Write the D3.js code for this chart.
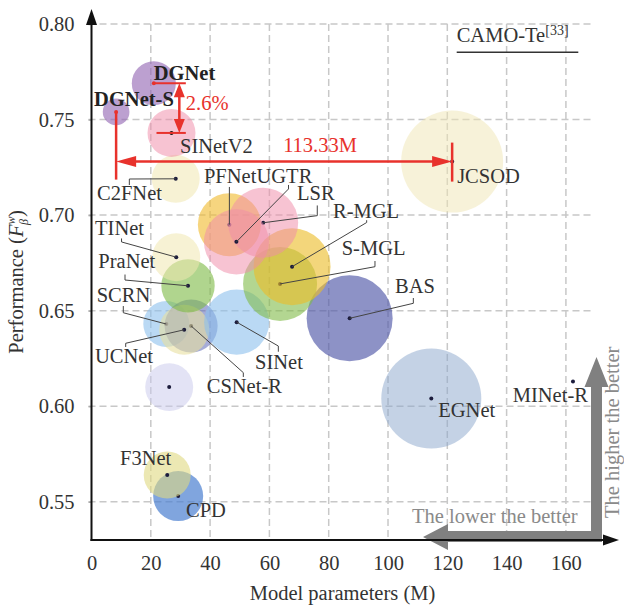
<!DOCTYPE html>
<html>
<head>
<meta charset="utf-8">
<script src="https://cdn.jsdelivr.net/npm/d3@7"></script>
<style>
  body { margin: 0; background: #fff; }
  svg { display: block; }
  text { font-family: "Liberation Serif", "Times New Roman", serif; }
</style>
</head>
<body>
<svg id="chart" width="624" height="608"></svg>
<script>
// Models in drawing order (later bubbles sit on top of earlier ones)
const models = ["CPD", "F3Net", "", "SCRN", "CSNet-R", "UCNet", "SINet", "PraNet", "TINet",
  "C2FNet", "BAS", "EGNet", "S-MGL", "R-MGL", "PFNet", "LSR", "UGTR", "SINetV2",
  "DGNet", "DGNet-S", "JCSOD", "MINet-R"];
// Model parameters (M)
const params = [29.23, 25.54, 26.2, 25.23, 33.6, 31.26, 48.95, 32.55, 28.58,
  28.41, 87.06, 114.6, 63.6, 67.64, 46.5, 57.9, 48.87, 26.98,
  21.02, 8.30, 121.63, 162.38];
// Performance F_beta^w on CAMO-Te
const perf = [0.553, 0.564, 0.610, 0.643, 0.642, 0.640, 0.644, 0.663, 0.678,
  0.719, 0.646, 0.604, 0.664, 0.673, 0.695, 0.696, 0.686, 0.743,
  0.769, 0.754, 0.728, 0.613];
// Bubble magnitude (area-encoded)
const bubble = [25, 22.1, 23, 21.2, 28.1, 25, 42.3, 28.5, 23,
  23, 74, 100, 54.8, 59.3, 39.7, 49, 42.3, 23,
  19.4, 7.1, 104, 0];

const xTicks = [0, 20, 40, 60, 80, 100, 120, 140, 160];
const yTicks = [0.55, 0.60, 0.65, 0.70, 0.75, 0.80];

// Bubble fills
const palette = {
  "CPD": ["#4a7fd0", 0.7], "F3Net": ["#e0d880", 0.6], "": ["#c8c8ec", 0.5],
  "SCRN": ["#8cc0ec", 0.6], "CSNet-R": ["#5c68b8", 0.55], "UCNet": ["#e8e0a0", 0.6],
  "SINet": ["#8cc0ec", 0.6], "PraNet": ["#80bb48", 0.62], "TINet": ["#f0e8b0", 0.55],
  "C2FNet": ["#f0e8b0", 0.55], "BAS": ["#5058a8", 0.65], "EGNet": ["#8aa6cc", 0.5],
  "S-MGL": ["#80bb48", 0.6], "R-MGL": ["#ebbd2a", 0.62], "PFNet": ["#f0bc30", 0.62],
  "LSR": ["#f08ca8", 0.52], "UGTR": ["#f08ca8", 0.52], "SINetV2": ["#f08ca8", 0.52],
  "DGNet": ["#9060b0", 0.6], "DGNet-S": ["#9060b0", 0.6], "JCSOD": ["#f0e6b4", 0.5],
  "MINet-R": ["#ffffff", 0]
};

// Label placement relative to each point (px), with optional leader polyline
const labelLayout = {
  "DGNet":   { dx: 0, dy: -3, bold: true },
  "DGNet-S": { dx: -22, dy: -6, bold: true },
  "SINetV2": { dx: 8.5, dy: 20 },
  "C2FNet":  { dx: -78.7, dy: 21.2, leader: [[-46.4, 0.2], [-46.4, 6.2]] },
  "JCSOD":   { dx: 5, dy: 21.7 },
  "PFNet":   { dx: -25.4, dy: -41.7, leader: [[0, -37.7]] },
  "UGTR":    { dx: 20.1, dy: -58.9, leader: [[52.1, -52.9], [52.1, -56.9]] },
  "LSR":     { dx: 33.8, dy: -22.8, leader: [[54.1, -7.1], [54.1, -17.3]] },
  "R-MGL":   { dx: 40.9, dy: -48.7, leader: [[74.6, -44.2], [74.6, -46.5]] },
  "S-MGL":   { dx: 61.6, dy: -28.9, leader: [[94.9, -17.2], [94.9, -22.9]] },
  "BAS":     { dx: 45.4, dy: -25.6, leader: [[63.7, -15], [63.7, -20.3]] },
  "TINet":   { dx: -81.2, dy: -22.2, leader: [[-54.7, -15.2], [-54.7, -18.7]] },
  "PraNet":  { dx: -89.7, dy: -17.5, leader: [[-63, -5.8], [-63, -11.3]] },
  "SCRN":    { dx: -69.6, dy: -22.3, leader: [[-43, -11.3], [-43, -18]] },
  "UCNet":   { dx: -89.2, dy: 33.5, leader: [[-58.5, 13.5], [-58.5, 17.2]] },
  "CSNet-R": { dx: 15.6, dy: 67.3, leader: [[52.2, 46.7], [52.2, 51]] },
  "SINet":   { dx: 18.4, dy: 47.2, leader: [[41.7, 23.9], [41.7, 29.6]] },
  "EGNet":   { dx: 7, dy: 18.1 },
  "MINet-R": { dx: -60.2, dy: 20.3 },
  "F3Net":   { dx: -47.2, dy: -10 },
  "CPD":     { dx: 7.8, dy: 20.7 }
};

const data = models.map((m, i) => ({ name: m, p: params[i], f: perf[i], s: bubble[i] }));
const byName = Object.fromEntries(data.map(d => [d.name, d]));

const svg = d3.select("#chart");
const FS = 20.5;
const textColor = "#333";

const x = d3.scaleLinear().domain([0, 169]).range([91.5, 592.6]);
const y = d3.scaleLinear().domain([0.53, 0.80]).range([540, 24]);
const r = d3.scaleSqrt().domain([0, 100]).range([0, 50]);

svg.append("rect").attr("width", 624).attr("height", 608).attr("fill", "#fff");

// Dashed grid
const grid = svg.append("g").attr("stroke", "#c8c8c8").attr("stroke-width", 1.5)
  .attr("stroke-dasharray", "7,4").attr("fill", "none");
grid.selectAll("line.h").data(yTicks).join("line").attr("class", "h")
  .attr("x1", x(0) - 3).attr("x2", x(169))
  .attr("y1", d => y(d)).attr("y2", d => y(d));
grid.selectAll("line.v").data(xTicks.slice(1)).join("line").attr("class", "v")
  .attr("x1", d => x(d)).attr("x2", d => x(d))
  .attr("y1", y(0.80)).attr("y2", y(0.53));

// "Higher / lower is better" guide arrows
const gray = "#808080";
const cx = 596.5, cy = 537;
svg.append("path").attr("fill", gray).attr("d",
  `M${cx + 5.5},${cy + 5} L${cx + 5.5},387 L608.5,387 L${cx},357 L584.5,387 L${cx - 5.5},387 ` +
  `L${cx - 5.5},${cy - 6} L448,${cy - 6} L448,${cy - 13} L423,${cy} L448,${cy + 13} L448,${cy + 5} Z`);
svg.append("text").attr("x", 412).attr("y", 523).attr("fill", "#8a8a8a")
  .attr("font-size", FS).text("The lower the better");
svg.append("text").attr("transform", "translate(619,518) rotate(-90)").attr("fill", "#8a8a8a")
  .attr("font-size", FS).text("The higher the better");

// Bubbles with their centre dots
const nodes = svg.append("g").selectAll("g").data(data).join("g");
nodes.append("circle")
  .attr("cx", d => x(d.p)).attr("cy", d => y(d.f)).attr("r", d => r(d.s))
  .attr("fill", d => palette[d.name][0]).attr("fill-opacity", d => palette[d.name][1]);
nodes.append("circle")
  .attr("cx", d => x(d.p)).attr("cy", d => y(d.f)).attr("r", 2)
  .attr("fill", d => (d.name === "DGNet" || d.name === "DGNet-S") ? "#e8322c"
    : d.name === "SINetV2" ? "#111" : "#1c1c3c");

// Leader lines
const leaders = svg.append("g").attr("fill", "none").attr("stroke", "#444").attr("stroke-width", 1);
data.forEach(d => {
  const L = labelLayout[d.name];
  if (!L || !L.leader) return;
  const px = x(d.p), py = y(d.f);
  const pts = [[px, py]].concat(L.leader.map(([a, b]) => [px + a, py + b]));
  leaders.append("path").attr("d", d3.line()(pts));
});

// Model labels
svg.append("g").selectAll("text").data(data.filter(d => labelLayout[d.name])).join("text")
  .attr("x", d => x(d.p) + labelLayout[d.name].dx)
  .attr("y", d => y(d.f) + labelLayout[d.name].dy)
  .attr("font-size", FS)
  .attr("font-weight", d => labelLayout[d.name].bold ? "bold" : "normal")
  .attr("fill", d => labelLayout[d.name].bold ? "#222" : textColor)
  .text(d => d.name);

// Red comparison annotations
const red = "#e8322c";
const ann = svg.append("g");
const S = byName["DGNet-S"], J = byName["JCSOD"], D = byName["DGNet"], V = byName["SINetV2"];
const xs = x(S.p), ys = y(S.f), xj = x(J.p), yj = y(J.f);
ann.append("line").attr("x1", xs).attr("x2", xs).attr("y1", ys).attr("y2", yj + 18)
  .attr("stroke", red).attr("stroke-width", 2.5);
ann.append("line").attr("x1", xs + 15).attr("x2", xj - 15).attr("y1", yj).attr("y2", yj)
  .attr("stroke", red).attr("stroke-width", 2.5);
ann.append("path").attr("fill", red)
  .attr("d", `M${xs},${yj} L${xs + 20},${yj - 5.5} L${xs + 20},${yj + 5.5} Z`);
ann.append("path").attr("fill", red)
  .attr("d", `M${xj},${yj} L${xj - 20},${yj - 5.5} L${xj - 20},${yj + 5.5} Z`);
ann.append("line").attr("x1", xj).attr("x2", xj).attr("y1", yj - 19).attr("y2", yj + 20)
  .attr("stroke", red).attr("stroke-width", 2.5);
ann.append("text").attr("x", (xs + xj) / 2 - 1).attr("y", yj - 9.5).attr("fill", red)
  .attr("font-size", FS).text(`${(J.p - S.p).toFixed(2)}M`);

const xd = x(D.p), yd = y(D.f), xv = x(V.p), yv = y(V.f);
const xa = xd + 25.5, xe = xd + 32;
ann.append("line").attr("x1", xd).attr("x2", xe).attr("y1", yd).attr("y2", yd)
  .attr("stroke", red).attr("stroke-width", 2);
ann.append("line").attr("x1", xv - 15).attr("x2", xe).attr("y1", yv).attr("y2", yv)
  .attr("stroke", red).attr("stroke-width", 2);
ann.append("line").attr("x1", xa).attr("x2", xa).attr("y1", yd + 8).attr("y2", yv - 8)
  .attr("stroke", red).attr("stroke-width", 2.5);
ann.append("path").attr("fill", red)
  .attr("d", `M${xa},${yd} L${xa - 5.5},${yd + 14} L${xa + 5.5},${yd + 14} Z`);
ann.append("path").attr("fill", red)
  .attr("d", `M${xa},${yv} L${xa - 5.5},${yv - 14} L${xa + 5.5},${yv - 14} Z`);
ann.append("text").attr("x", xe).attr("y", (yd + yv) / 2 + 2).attr("fill", red)
  .attr("font-size", FS).text(`${((D.f - V.f) * 100).toFixed(1)}%`);

// Dataset tag
const tag = svg.append("text").attr("x", 456.7).attr("y", 41.7).attr("font-size", FS).attr("fill", textColor);
tag.append("tspan").text("CAMO-Te");
tag.append("tspan").attr("font-size", 14).attr("dy", -7).text("[33]");
svg.append("line").attr("x1", 456.7).attr("x2", 578.3).attr("y1", 52.3).attr("y2", 52.3)
  .attr("stroke", "#333").attr("stroke-width", 1.5);

// Axes
const yAxis = svg.append("g").attr("transform", `translate(${x(0)},0)`)
  .call(d3.axisLeft(y).tickValues(yTicks).tickFormat(d3.format(".2f")).tickSize(3).tickPadding(14));
yAxis.select(".domain").remove();
yAxis.selectAll(".tick line").attr("stroke", "#aaa").attr("stroke-width", 1.5);
yAxis.selectAll(".tick text").attr("font-size", FS).attr("fill", textColor)
  .attr("font-family", "Liberation Serif, Times New Roman, serif");

const xAxis = svg.append("g").attr("transform", `translate(0,${y(0.53)})`)
  .call(d3.axisBottom(x).tickValues(xTicks).tickFormat(d3.format("d")).tickSize(0).tickPadding(15.4));
xAxis.select(".domain").remove();
xAxis.selectAll(".tick text").attr("font-size", FS).attr("fill", textColor)
  .attr("font-family", "Liberation Serif, Times New Roman, serif");

const ax = svg.append("g");
ax.append("line").attr("x1", x(0)).attr("x2", x(0)).attr("y1", y(0.53) + 1).attr("y2", 20)
  .attr("stroke", "#111").attr("stroke-width", 2);
ax.append("path").attr("fill", "#111").attr("d", `M${x(0)},9 L${x(0) - 5.5},25 L${x(0) + 5.5},25 Z`);
ax.append("line").attr("x1", x(0) - 1).attr("x2", 608).attr("y1", y(0.53)).attr("y2", y(0.53))
  .attr("stroke", "#111").attr("stroke-width", 2);
ax.append("path").attr("fill", "#111")
  .attr("d", `M619,${y(0.53)} L603,${y(0.53) - 5.5} L603,${y(0.53) + 5.5} Z`);

// Axis titles
svg.append("text").attr("x", 342.5).attr("y", 600).attr("text-anchor", "middle")
  .attr("font-size", FS).attr("fill", textColor).text("Model parameters (M)");
const yt = svg.append("text").attr("transform", "translate(23,282) rotate(-90)")
  .attr("text-anchor", "middle").attr("font-size", FS).attr("fill", textColor);
yt.append("tspan").text("Performance (");
yt.append("tspan").attr("font-style", "italic").text("F");
yt.append("tspan").attr("font-size", 12).attr("font-style", "italic").attr("dy", -8).text("w");
yt.append("tspan").attr("font-size", 12).attr("font-style", "italic").attr("dx", -8.5).attr("dy", 13).text("β");
yt.append("tspan").attr("dx", 2).attr("dy", -5).text(")");
</script>
</body>
</html>
